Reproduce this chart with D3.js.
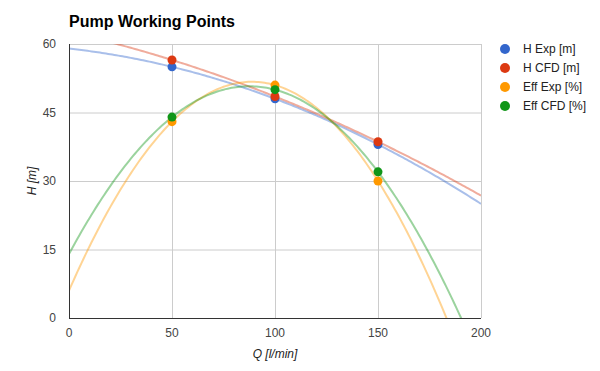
<!DOCTYPE html>
<html>
<head>
<meta charset="utf-8">
<script src="https://cdn.jsdelivr.net/npm/d3@7"></script>
<style>
body { margin: 0; background: #fff; }
svg { font-family: Arial, "Liberation Sans", sans-serif; }
</style>
</head>
<body>
<div id="chart"></div>
<script>
// working points
var flow = [50, 100, 150];
var hExp = [55, 48, 38];
var hCfd = [56.5, 48.5, 38.6];
var effExp = [43, 51, 30];
var effCfd = [44, 50, 32];
var seriesNames = ["H Exp [m]", "H CFD [m]", "Eff Exp [%]", "Eff CFD [%]"];
var seriesColors = ["#3366cc", "#dc3912", "#ff9900", "#109618"];
var xTicks = [0, 50, 100, 150, 200];
var yTicks = [0, 15, 30, 45, 60];

var W = 600, H = 371;
var margin = { top: 44, right: 119, bottom: 53, left: 69 },
    width = W - margin.left - margin.right,
    height = H - margin.top - margin.bottom;

var x = d3.scaleLinear().domain([0, 200]).range([0, width]);
var y = d3.scaleLinear().domain([0, 60]).range([height, 0]);

var series = [hExp, hCfd, effExp, effCfd].map(function (vals, i) {
    return {
        name: seriesNames[i],
        color: seriesColors[i],
        points: flow.map(function (q, j) { return { q: q, v: vals[j] }; })
    };
});

// polynomial (degree 2) trendline through the points, like the original
function quadFit(pts) {
    var x0 = pts[0].q, x1 = pts[1].q, x2 = pts[2].q;
    var y0 = pts[0].v, y1 = pts[1].v, y2 = pts[2].v;
    return function (t) {
        return y0 * (t - x1) * (t - x2) / ((x0 - x1) * (x0 - x2)) +
               y1 * (t - x0) * (t - x2) / ((x1 - x0) * (x1 - x2)) +
               y2 * (t - x0) * (t - x1) / ((x2 - x0) * (x2 - x1));
    };
}

var svg = d3.select("#chart").append("svg")
    .attr("width", W)
    .attr("height", H);

svg.append("text")
    .attr("x", margin.left)
    .attr("y", 27)
    .attr("font-size", 16)
    .attr("font-weight", "bold")
    .attr("fill", "#000")
    .text("Pump Working Points");

var g = svg.append("g")
    .attr("transform", "translate(" + margin.left + "," + margin.top + ")");

g.append("defs").append("clipPath")
    .attr("id", "plotClip")
    .append("rect")
    .attr("width", width)
    .attr("height", height);

// grid
g.selectAll("line.hgrid").data(yTicks.slice(1)).enter().append("line")
    .attr("class", "hgrid")
    .attr("x1", 0).attr("x2", width)
    .attr("y1", function (d) { return y(d) + 0.5; })
    .attr("y2", function (d) { return y(d) + 0.5; })
    .attr("stroke", "#cccccc");
g.selectAll("line.vgrid").data(xTicks.slice(1)).enter().append("line")
    .attr("class", "vgrid")
    .attr("y1", 0).attr("y2", height)
    .attr("x1", function (d) { return x(d) + 0.5; })
    .attr("x2", function (d) { return x(d) + 0.5; })
    .attr("stroke", "#cccccc");

// tick labels
g.selectAll("text.ylab").data(yTicks).enter().append("text")
    .attr("x", -13)
    .attr("y", function (d) { return y(d) + 4; })
    .attr("text-anchor", "end")
    .attr("font-size", 12)
    .attr("fill", "#444")
    .text(function (d) { return d; });
g.selectAll("text.xlab").data(xTicks).enter().append("text")
    .attr("x", function (d) { return x(d); })
    .attr("y", height + 19)
    .attr("text-anchor", "middle")
    .attr("font-size", 12)
    .attr("fill", "#444")
    .text(function (d) { return d; });

// axis titles
g.append("text")
    .attr("x", width / 2)
    .attr("y", height + 40)
    .attr("text-anchor", "middle")
    .attr("font-size", 12)
    .attr("font-style", "italic")
    .attr("fill", "#222")
    .text("Q [l/min]");
g.append("text")
    .attr("transform", "translate(-33," + (height / 2) + ") rotate(-90)")
    .attr("text-anchor", "middle")
    .attr("font-size", 12)
    .attr("font-style", "italic")
    .attr("fill", "#222")
    .text("H [m]");

// trendlines
var samples = d3.range(0, 200.5, 1);
var line = d3.line()
    .x(function (d) { return x(d[0]); })
    .y(function (d) { return y(d[1]); });
var trends = g.append("g").attr("clip-path", "url(#plotClip)");
series.forEach(function (s) {
    var f = quadFit(s.points);
    trends.append("path")
        .datum(samples.map(function (t) { return [t, f(t)]; }))
        .attr("d", line)
        .attr("fill", "none")
        .attr("stroke", s.color)
        .attr("stroke-opacity", 0.42)
        .attr("stroke-width", 2);
});

// baseline axes
g.append("line")
    .attr("x1", 0).attr("x2", width)
    .attr("y1", height + 0.5).attr("y2", height + 0.5)
    .attr("stroke", "#333");
g.append("line")
    .attr("x1", 0.5).attr("x2", 0.5)
    .attr("y1", 0).attr("y2", height)
    .attr("stroke", "#333");

// points
series.forEach(function (s) {
    g.selectAll(null).data(s.points).enter().append("circle")
        .attr("cx", function (d) { return x(d.q); })
        .attr("cy", function (d) { return y(d.v); })
        .attr("r", 4.5)
        .attr("fill", s.color);
});

// legend
var legend = svg.append("g")
    .attr("transform", "translate(505,49)");
var item = legend.selectAll("g").data(series).enter().append("g")
    .attr("transform", function (d, i) { return "translate(0," + (i * 19) + ")"; });
item.append("circle")
    .attr("r", 5)
    .attr("fill", function (d) { return d.color; });
item.append("text")
    .attr("x", 18)
    .attr("y", 4)
    .attr("font-size", 12)
    .attr("fill", "#222")
    .text(function (d) { return d.name; });
</script>
</body>
</html>
